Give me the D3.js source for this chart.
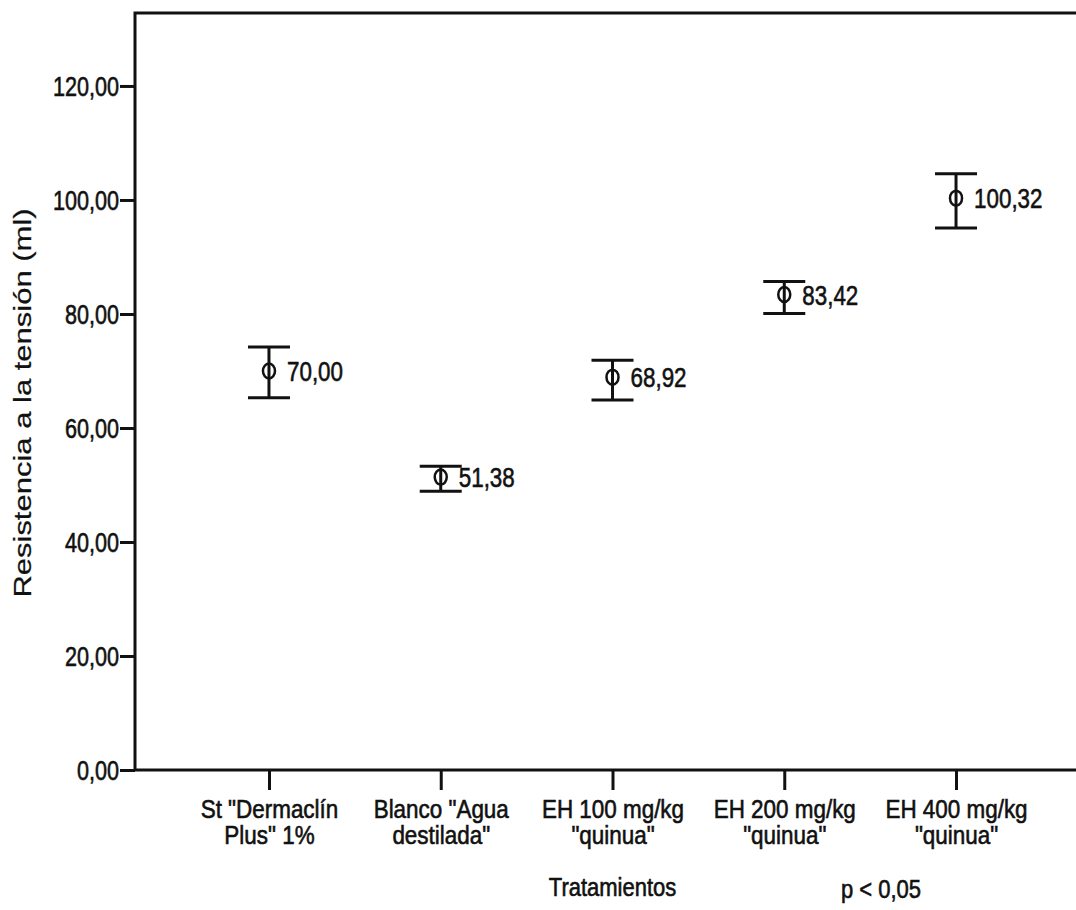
<!DOCTYPE html>
<html>
<head>
<meta charset="utf-8">
<script src="https://cdn.jsdelivr.net/npm/d3@7"></script>
<style>
  body { margin: 0; background: #fff; }
  svg { display: block; font-family: "Liberation Sans", Arial, sans-serif; }
  svg text { stroke: #111; stroke-width: 0.6px; }
</style>
</head>
<body>
<svg width="1076" height="910"></svg>
<script>
const categories = [
    ["St \"Dermaclín", "Plus\" 1%"],
    ["Blanco \"Agua", "destilada\""],
    ["EH 100 mg/kg", "\"quinua\""],
    ["EH 200 mg/kg", "\"quinua\""],
    ["EH 400 mg/kg", "\"quinua\""]
];
const means = [70.00, 51.38, 68.92, 83.42, 100.32];
const upper = [74.2, 53.3, 71.9, 85.7, 104.6];
const lower = [65.3, 48.9, 64.9, 80.1, 95.1];
const meanLabels = ["70,00", "51,38", "68,92", "83,42", "100,32"];
const yTicks = [0, 20, 40, 60, 80, 100, 120];

const svg = d3.select("svg");
const plot = { left: 135, top: 13, bottom: 770, right: 1090 };
const ink = "#111";

const keys = categories.map((d, i) => i);
const x = d3.scalePoint().domain(keys).range([plot.left, plot.right]).padding(0.78);
const y = d3.scaleLinear().domain([0, 132.8]).range([plot.bottom, plot.top]);

// frame (top line runs off the right edge)
svg.append("rect")
    .attr("x", plot.left).attr("y", plot.top)
    .attr("width", 1100 - plot.left).attr("height", plot.bottom - plot.top)
    .attr("fill", "none").attr("stroke", ink).attr("stroke-width", 3);

// y axis
const yAxis = svg.append("g")
    .attr("transform", `translate(${plot.left},0)`)
    .call(d3.axisLeft(y).tickValues(yTicks).tickSize(15).tickPadding(2)
        .tickFormat(d => d3.format(".2f")(d).replace(".", ",")));
yAxis.select(".domain").remove();
yAxis.selectAll("line").attr("stroke", ink).attr("stroke-width", 3);
yAxis.selectAll("text")
    .attr("fill", ink)
    .style("font-size", "27px")
    .attr("x", -16 / 0.8)
    .attr("dy", "0.36em")
    .attr("transform", "scale(0.8,1)");

// x axis
const xAxis = svg.append("g")
    .attr("transform", `translate(0,${plot.bottom})`)
    .call(d3.axisBottom(x).tickSize(20).tickFormat(""));
xAxis.select(".domain").remove();
xAxis.selectAll("line").attr("stroke", ink).attr("stroke-width", 3);

xAxis.selectAll(".tick").each(function(i) {
    const t = d3.select(this).append("text")
        .attr("fill", ink)
        .attr("text-anchor", "middle")
        .attr("transform", "scale(0.88,1)")
        .style("font-size", "25.5px");
    categories[i].forEach((line, k) => {
        t.append("tspan").attr("x", 0).attr("y", 48 + k * 26).text(line);
    });
});

// error bars
const g = svg.append("g").attr("stroke", ink).attr("stroke-width", 3).attr("fill", "none");
keys.forEach(i => {
    const cx = x(i);
    g.append("line").attr("x1", cx).attr("x2", cx).attr("y1", y(upper[i])).attr("y2", y(lower[i]));
    g.append("line").attr("x1", cx - 21).attr("x2", cx + 21).attr("y1", y(upper[i])).attr("y2", y(upper[i]));
    g.append("line").attr("x1", cx - 21).attr("x2", cx + 21).attr("y1", y(lower[i])).attr("y2", y(lower[i]));
    g.append("ellipse").attr("cx", cx).attr("cy", y(means[i]))
        .attr("rx", 6).attr("ry", 7.5).attr("stroke-width", 2.5);
});

// value labels
svg.append("g").selectAll("text")
    .data(keys)
    .join("text")
    .attr("transform", i => `translate(${x(i) + 18},${y(means[i])}) scale(0.8,1)`)
    .attr("dy", "0.36em")
    .attr("fill", ink)
    .style("font-size", "28px")
    .text(i => meanLabels[i]);

// y title
svg.append("text")
    .attr("transform", "translate(31,403) scale(0.8,1) rotate(-90)")
    .attr("text-anchor", "middle")
    .attr("fill", ink)
    .style("font-size", "31px")
    .style("stroke-width", "0.3px")
    .text("Resistencia a la tensión (ml)");

// x title
svg.append("text")
    .attr("transform", `translate(${x(2)},896) scale(0.88,1)`)
    .attr("text-anchor", "middle")
    .attr("fill", ink)
    .style("font-size", "25px")
    .text("Tratamientos");

svg.append("text")
    .attr("transform", "translate(881,898) scale(0.88,1)")
    .attr("text-anchor", "middle")
    .attr("fill", ink)
    .style("font-size", "25px")
    .text("p < 0,05");
</script>
</body>
</html>
